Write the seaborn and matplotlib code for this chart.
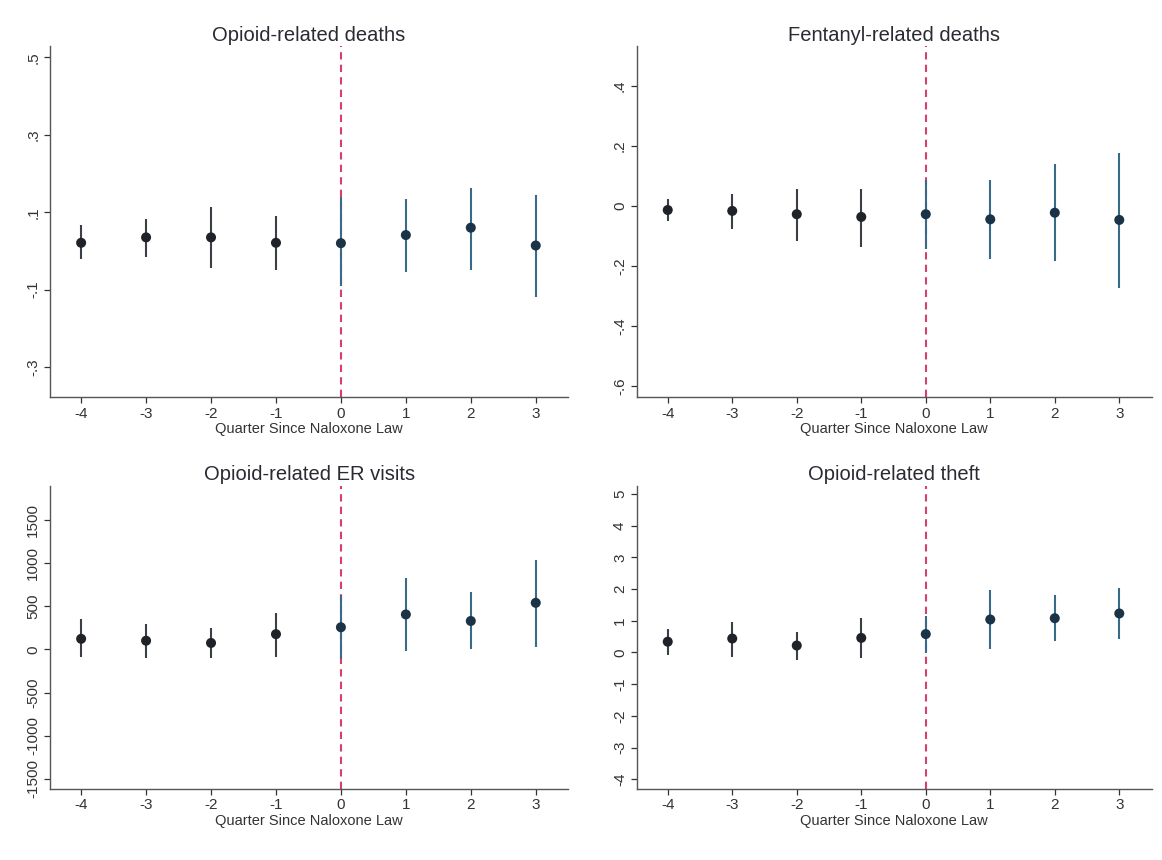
import numpy as np
import pandas as pd
import matplotlib
matplotlib.use("Agg")
import matplotlib.pyplot as plt
import seaborn as sns

sns.set_theme(style="ticks")
plt.rcParams['font.family'] = ['Liberation Sans', 'DejaVu Sans']

quarters = [-4, -3, -2, -1, 0, 1, 2, 3]

titles = ["Opioid-related deaths", "Fentanyl-related deaths",
          "Opioid-related ER visits", "Opioid-related theft"]

deaths_est = [0.021, 0.035, 0.035, 0.021, 0.020, 0.041, 0.060, 0.014]
deaths_lo = [-0.020, -0.015, -0.043, -0.048, -0.090, -0.055, -0.048, -0.118]
deaths_hi = [0.067, 0.083, 0.114, 0.090, 0.139, 0.135, 0.163, 0.144]

fent_est = [-0.013, -0.016, -0.027, -0.036, -0.027, -0.044, -0.022, -0.046]
fent_lo = [-0.051, -0.076, -0.115, -0.136, -0.142, -0.176, -0.181, -0.273]
fent_hi = [0.022, 0.040, 0.058, 0.058, 0.088, 0.088, 0.139, 0.176]

er_est = [124, 102, 76, 178, 258, 407, 331, 542]
er_lo = [-91, -95, -102, -91, -113, -18, 7, 25]
er_hi = [353, 298, 244, 425, 629, 825, 662, 1044]

theft_est = [0.34, 0.44, 0.22, 0.46, 0.58, 1.04, 1.08, 1.23]
theft_lo = [-0.08, -0.13, -0.25, -0.18, -0.03, 0.11, 0.35, 0.42]
theft_hi = [0.74, 0.96, 0.64, 1.08, 1.16, 1.97, 1.80, 2.02]

yticks_list = [[-0.3, -0.1, 0.1, 0.3, 0.5],
               [-0.6, -0.4, -0.2, 0.0, 0.2, 0.4],
               [-1500, -1000, -500, 0, 500, 1000, 1500],
               [-4, -3, -2, -1, 0, 1, 2, 3, 4, 5]]
ytick_labels = [["-.3", "-.1", ".1", ".3", ".5"],
                ["-.6", "-.4", "-.2", "0", ".2", ".4"],
                ["-1500", "-1000", "-500", "0", "500", "1000", "1500"],
                ["-4", "-3", "-2", "-1", "0", "1", "2", "3", "4", "5"]]
ylims = [(-0.378, 0.528), (-0.636, 0.531), (-1616, 1900), (-4.29, 5.25)]

series = [(deaths_est, deaths_lo, deaths_hi), (fent_est, fent_lo, fent_hi),
          (er_est, er_lo, er_hi), (theft_est, theft_lo, theft_hi)]

fig = plt.figure(figsize=(11.62, 8.60), dpi=100)
positions = [[0.043, 0.538, 0.446, 0.408],
             [0.548, 0.538, 0.443, 0.408],
             [0.043, 0.083, 0.446, 0.352],
             [0.548, 0.083, 0.443, 0.352]]

pre_ci = "#3c3f44"
post_ci = "#3a6a8a"
pre_pt = "#1f2228"
post_pt = "#1a3347"

for i in range(4):
    ax = fig.add_axes(positions[i])
    est, lo, hi = series[i]
    df = pd.DataFrame({"q": quarters, "est": est, "lo": lo, "hi": hi})
    df["period"] = np.where(df["q"] >= 0, "post", "pre")
    for _, r in df.iterrows():
        c = post_ci if r["period"] == "post" else pre_ci
        ax.vlines(r["q"], r["lo"], r["hi"], color=c, lw=1.5, zorder=2)
    sns.scatterplot(data=df, x="q", y="est", hue="period",
                    palette={"pre": pre_pt, "post": post_pt},
                    s=52, edgecolor="none", legend=False, ax=ax, zorder=3)
    ax.axvline(0, color="#d8406a", lw=1.5, ls=(0, (3.5, 2.5)), zorder=1)
    ax.set_xlim(-4.48, 3.5)
    ax.set_ylim(*ylims[i])
    ax.set_xticks(quarters)
    ax.set_xticklabels([str(q) for q in quarters], fontsize=11)
    ax.set_yticks(yticks_list[i])
    ax.set_yticklabels(ytick_labels[i], rotation=90, va="center", fontsize=11)
    ax.set_xlabel("Quarter Since Naloxone Law", fontsize=10.5, color="#333333", labelpad=1)
    ax.set_ylabel("")
    ax.set_title(titles[i], fontsize=14.5, color="#2a2a33", pad=4)
    sns.despine(ax=ax)
    for sp in ["left", "bottom"]:
        ax.spines[sp].set_color("#555555")
        ax.spines[sp].set_linewidth(1.0)
    ax.tick_params(colors="#333333", length=4, width=0.9, pad=3)

fig.savefig("out.png", dpi=100, facecolor="white")
